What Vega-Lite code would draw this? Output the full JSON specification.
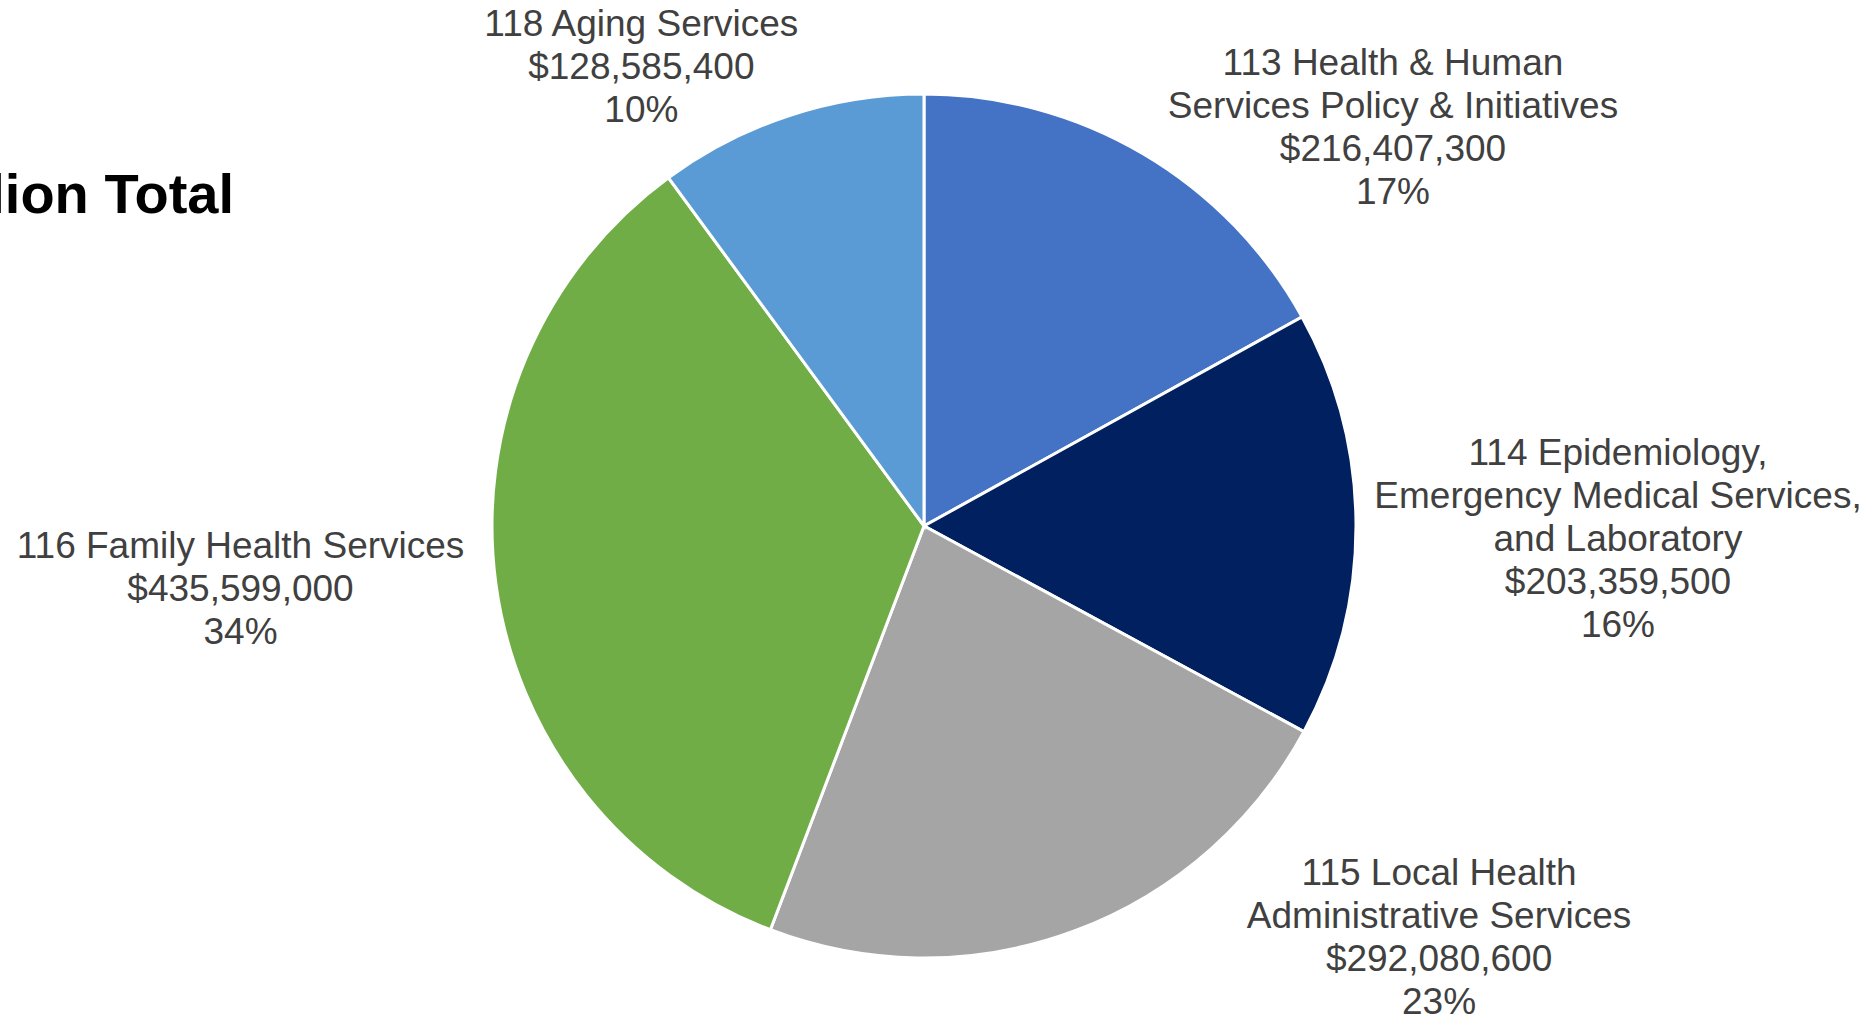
{
  "$schema": "https://vega.github.io/schema/vega-lite/v6.json",
  "width": 1848,
  "height": 982,
  "autosize": {"type": "none"},
  "padding": {"left": 0, "top": 35, "right": 27, "bottom": 0},
  "background": "white",
  "config": {"view": {"stroke": null}},
  "data": {
    "values": [
      {"code": 113, "value": 216407300, "label": "113 Health & Human\nServices Policy & Initiatives\n$216,407,300\n17%"},
      {"code": 114, "value": 203359500, "label": "114 Epidemiology,\nEmergency Medical Services,\nand Laboratory\n$203,359,500\n16%"},
      {"code": 115, "value": 292080600, "label": "115 Local Health\nAdministrative Services\n$292,080,600\n23%"},
      {"code": 116, "value": 435599000, "label": "116 Family Health Services\n$435,599,000\n34%"},
      {"code": 118, "value": 128585400, "label": "118 Aging Services\n$128,585,400\n10%"}
    ]
  },
  "encoding": {
    "theta": {"field": "value", "type": "quantitative", "stack": true},
    "order": {"field": "code", "type": "quantitative", "sort": "ascending"}
  },
  "layer": [
    {
      "mark": {"type": "arc", "outerRadius": 432, "stroke": "white", "strokeWidth": 3},
      "encoding": {
        "color": {
          "field": "code", "type": "nominal",
          "scale": {"domain": [113, 114, 115, 116, 118], "range": ["#4472C4", "#002060", "#A5A5A5", "#70AD47", "#5B9BD5"]},
          "legend": null
        }
      }
    },
    {
      "mark": {"type": "text", "radius": 500, "align": "center", "baseline": "alphabetic", "lineBreak": "\n", "lineHeight": 43, "font": "Liberation Sans", "fontSize": 37, "color": "#404040", "dx": 215, "dy": -20},
      "encoding": {"text": {"condition": {"test": "datum.code === 113", "field": "label", "type": "nominal"}, "value": ""}}
    },
    {
      "mark": {"type": "text", "radius": 500, "align": "center", "baseline": "alphabetic", "lineBreak": "\n", "lineHeight": 43, "font": "Liberation Sans", "fontSize": 37, "color": "#404040", "dx": 194, "dy": -59},
      "encoding": {"text": {"condition": {"test": "datum.code === 114", "field": "label", "type": "nominal"}, "value": ""}}
    },
    {
      "mark": {"type": "text", "radius": 500, "align": "center", "baseline": "alphabetic", "lineBreak": "\n", "lineHeight": 43, "font": "Liberation Sans", "fontSize": 37, "color": "#404040", "dx": 341, "dy": -110},
      "encoding": {"text": {"condition": {"test": "datum.code === 115", "field": "label", "type": "nominal"}, "value": ""}}
    },
    {
      "mark": {"type": "text", "radius": 500, "align": "center", "baseline": "alphabetic", "lineBreak": "\n", "lineHeight": 43, "font": "Liberation Sans", "fontSize": 37, "color": "#404040", "dx": -188, "dy": -35},
      "encoding": {"text": {"condition": {"test": "datum.code === 116", "field": "label", "type": "nominal"}, "value": ""}}
    },
    {
      "mark": {"type": "text", "radius": 500, "align": "center", "baseline": "alphabetic", "lineBreak": "\n", "lineHeight": 43, "font": "Liberation Sans", "fontSize": 37, "color": "#404040", "dx": -127, "dy": -15},
      "encoding": {"text": {"condition": {"test": "datum.code === 118", "field": "label", "type": "nominal"}, "value": ""}}
    },
    {
      "data": {"values": [{"title": "$1.3 Billion Total"}]},
      "mark": {"type": "text", "align": "right", "baseline": "alphabetic", "font": "Liberation Sans", "fontSize": 56, "fontWeight": "bold", "color": "black", "dx": -690, "dy": -313},
      "encoding": {"text": {"field": "title", "type": "nominal"}, "theta": null, "order": null}
    }
  ]
}
